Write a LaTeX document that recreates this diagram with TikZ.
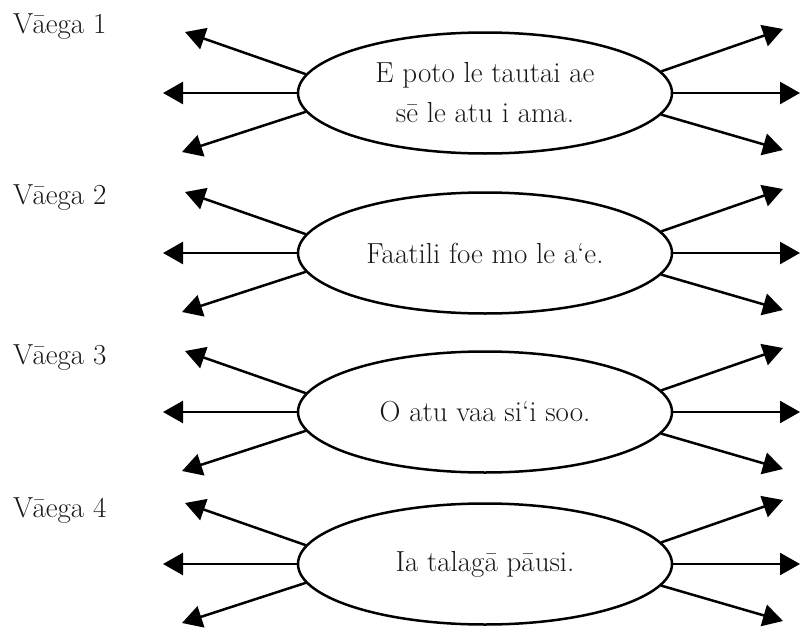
\documentclass[tikz,border=0pt]{standalone}
\usepackage{fontspec}
\usetikzlibrary{arrows.meta,shapes.geometric}
\begin{document}
\begin{tikzpicture}[x=1pt,y=-1pt,
  bubble/.style={ellipse, draw, line width=2.5pt, minimum width=374pt,
    minimum height=121pt, inner sep=0pt, align=center,
    font=\fontsize{29}{40}\selectfont, text=black!90},
  partlabel/.style={anchor=base west, inner sep=0pt,
    font=\fontsize{29}{35}\selectfont, text=black!90},
  ray/.style={line width=2.5pt, -{Triangle[length=20pt,width=22pt]}}
]
\useasboundingbox (0,0) rectangle (801,629);

\node[partlabel] (v1) at (13,33)  {Vāega 1};
\node[partlabel] (v2) at (13,204) {Vāega 2};
\node[partlabel] (v3) at (13,364) {Vāega 3};
\node[partlabel] (v4) at (13,517) {Vāega 4};

\node[bubble] (e1) at (485,93)  {E poto le tautai ae\\sē le atu i ama.};
\node[bubble] (e2) at (485,253) {Faatili foe mo le a‘e.};
\node[bubble] (e3) at (485,412) {O atu vaa si‘i soo.};
\node[bubble] (e4) at (485,564) {Ia talagā pāusi.};

\foreach \i/\cy in {1/93,2/253,3/412,4/564}{
  \coordinate (lu\i) at (185,\cy-61);
  \coordinate (lm\i) at (163,\cy);
  \coordinate (ld\i) at (182,\cy+59);
  \coordinate (ru\i) at (783,\cy-64);
  \coordinate (rm\i) at (800,\cy);
  \coordinate (rd\i) at (783,\cy+57);
  \draw[ray] (e\i.174) -- (lu\i);
  \draw[ray] (e\i.west) -- (lm\i);
  \draw[ray] (e\i.186) -- (ld\i);
  \draw[ray] (e\i.7) -- (ru\i);
  \draw[ray] (e\i.east) -- (rm\i);
  \draw[ray] (e\i.-7) -- (rd\i);
}
\end{tikzpicture}
\end{document}
